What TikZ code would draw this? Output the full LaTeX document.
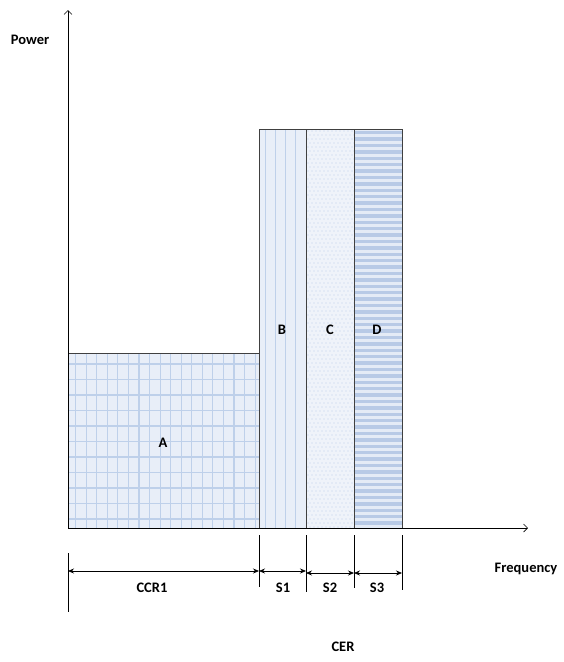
\documentclass[tikz,border=0pt]{standalone}
\usepackage{fontspec}
\setmainfont{Carlito}
\usetikzlibrary{arrows.meta}
\definecolor{fillA}{HTML}{E8EEF8}
\definecolor{lineA}{HTML}{BED0EA}
\definecolor{fillD}{HTML}{E4EBF6}
\definecolor{lineD}{HTML}{B8CAE6}
\tikzset{
  lbl/.style={font=\bfseries\fontsize{14.5}{16}\selectfont, inner sep=0pt},
  band/.style={draw=black!75, line width=0.9pt},
  tick/.style={line width=0.7pt},
  dim/.style={line width=0.7pt, {Stealth[length=6pt,width=5pt]}-{Stealth[length=6pt,width=5pt]}},
  axis/.style={line width=0.7pt, -{Straight Barb[length=4pt,width=8pt]}}
}
\begin{document}
\begin{tikzpicture}[x=1pt,y=-1pt]
\useasboundingbox (0,0) rectangle (563,662);
% --- A: grid
\fill[fillA] (68,353) rectangle (259,528);
\begin{scope}
\clip (68,353) rectangle (259,528);
\foreach \i in {0,...,17} \draw[lineA, line width=1.1pt] ({75.7+10.55*\i},353) -- ({75.7+10.55*\i},528);
\foreach \j in {0,...,10} \draw[lineA, line width=1.1pt] (68,{364+15.5*\j}) -- (259,{364+15.5*\j});
\end{scope}
% --- B: vertical lines
\fill[fillA] (259,129) rectangle (306,528);
\foreach \i in {0,...,3} \draw[lineA, line width=0.9pt] ({265+10.3*\i},129) -- ({265+10.3*\i},528);
% --- C: dots
\fill[fillA!70!white] (306,129) rectangle (354,528);
\begin{scope}
\clip (306,129) rectangle (354,528);
\foreach \j in {0,...,99} {
  \pgfmathsetmacro{\yy}{131+4*\j}
  \pgfmathsetmacro{\off}{mod(\j,2)*2}
  \foreach \i in {0,...,11} \fill[lineA] ({308+\off+4*\i},\yy) circle (0.6);
}
\end{scope}
% --- D: horizontal stripes
\fill[fillD] (354,129) rectangle (402,528);
\begin{scope}
\clip (354,129) rectangle (402,528);
\foreach \j in {0,...,62} \fill[lineD] (354,{131+6.4*\j}) rectangle (402,{131+6.4*\j+3.4});
\end{scope}
% --- outlines
\draw[band] (68,353) rectangle (259,528);
\draw[band] (259,129) rectangle (306,528);
\draw[band] (306,129) rectangle (354,528);
\draw[band] (354,129) rectangle (402,528);
% --- axes
\coordinate (O) at (68,528);
\coordinate (ytip) at (68,10);
\coordinate (xtip) at (528,528);
\draw[axis] (O) -- (ytip);
\draw[axis] (O) -- (xtip);
% --- labels
\node[lbl] (power) at (30,40) {Power};
\node[lbl] (freq) at (526,569) {Frequency};
\node[lbl] (cer) at (343,647) {CER};
\node[lbl] (a) at (163,443) {A};
\node[lbl] (b) at (282,330) {B};
\node[lbl] (c) at (330,330) {C};
\node[lbl] (d) at (377,330) {D};
% --- dimension ticks
\coordinate (t0a) at (68,553); \coordinate (t0b) at (68,612);
\coordinate (t1a) at (259,535); \coordinate (t1b) at (259,587);
\coordinate (t2a) at (306,535); \coordinate (t2b) at (306,592);
\coordinate (t3a) at (354,535); \coordinate (t3b) at (354,588);
\coordinate (t4a) at (402,535); \coordinate (t4b) at (402,590);
\draw[tick] (t0a) -- (t0b);
\draw[tick] (t1a) -- (t1b);
\draw[tick] (t2a) -- (t2b);
\draw[tick] (t3a) -- (t3b);
\draw[tick] (t4a) -- (t4b);
\coordinate (d0) at (68,571); \coordinate (d1l) at (259,571);
\coordinate (d1r) at (259,571); \coordinate (d2l) at (306,571);
\coordinate (d2r) at (306,573); \coordinate (d3l) at (354,573);
\coordinate (d3r) at (354,573); \coordinate (d4) at (402,573);
\draw[dim] (d0) -- (d1l);
\draw[dim] (d1r) -- (d2l);
\draw[dim] (d2r) -- (d3l);
\draw[dim] (d3r) -- (d4);
\node[lbl] (ccr1) at (152,588) {CCR1};
\node[lbl] (s1) at (283,588) {S1};
\node[lbl] (s2) at (330,588) {S2};
\node[lbl] (s3) at (377,588) {S3};
\end{tikzpicture}
\end{document}
